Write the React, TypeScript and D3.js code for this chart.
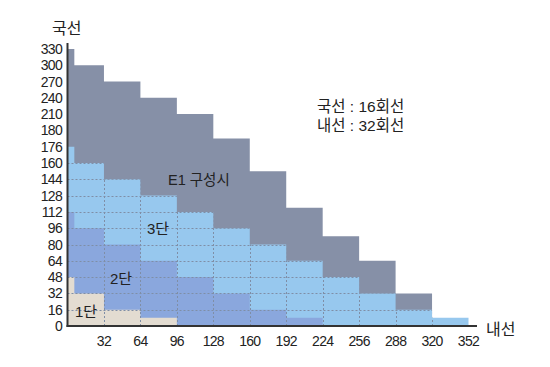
import { useEffect, useRef } from "react";
import * as d3 from "d3";

// column edges on the 내선 axis (first one is a narrow strip)
const colEdges = [0, 6, 32, 64, 96, 128, 160, 192, 224, 256, 288, 320, 352];

// top of each band per column, in 국선 units
const e1Top = [330, 300, 270, 240, 210, 178, 152, 116, 88, 64, 32, 0];
const step3Top = [176, 160, 144, 128, 112, 96, 80, 64, 48, 32, 16, 8];
const step2Top = [112, 96, 80, 64, 48, 32, 16, 8, 0, 0, 0, 0];
const step1Top = [48, 32, 16, 8, 0, 0, 0, 0, 0, 0, 0, 0];

const yTickValues = [0, 16, 32, 48, 64, 80, 96, 112, 128, 144, 160, 176, 180, 210, 240, 270, 300, 330];
const xTickValues = [32, 64, 96, 128, 160, 192, 224, 256, 288, 320, 352];
const gridY = [16, 32, 48, 64, 80, 96, 112, 128, 144, 160];
const gridX = [32, 64, 96, 128, 160, 192, 224, 256, 288, 320];

const W = 550;
const H = 367;
const FONT = "'Liberation Sans', Arial, 'Noto Sans CJK KR', sans-serif";

export default function App() {
  const ref = useRef<SVGSVGElement>(null);

  useEffect(() => {
    const svg = d3.select(ref.current);
    svg.selectAll("*").remove();

    const x0 = 67.5;
    const base = 326;
    const s = 16.3;

    const x = d3.scaleLinear().domain([0, 352]).range([x0, 468.5]);
    // uneven tick values sit evenly spaced, so the scale is piecewise
    const y = d3.scaleLinear()
      .domain([0, 176, 180, 330])
      .range([base, base - 11 * s, base - 12 * s, base - 17 * s]);

    const stepArea = (tops: number[]) => {
      const pts = tops.map((t, i) => [colEdges[i], t] as [number, number]);
      pts.push([colEdges[colEdges.length - 1], tops[tops.length - 1]]);
      return d3.area<[number, number]>()
        .x(d => x(d[0]))
        .y0(y(0))
        .y1(d => y(d[1]))
        .curve(d3.curveStepAfter)(pts) as string;
    };

    svg.append("defs").append("clipPath").attr("id", "lightClip")
      .append("path").attr("d", stepArea(step3Top));

    svg.append("path").attr("d", stepArea(e1Top)).attr("fill", "#8690a7");
    svg.append("path").attr("d", stepArea(step3Top)).attr("fill", "#97c8ee");
    svg.append("path").attr("d", stepArea(step2Top)).attr("fill", "#8aa7dd");
    svg.append("path").attr("d", stepArea(step1Top)).attr("fill", "#e3dcd1");

    const grid = svg.append("g").attr("clip-path", "url(#lightClip)")
      .attr("stroke", "#7f8ea6").attr("stroke-width", 1).attr("stroke-dasharray", "2,2");
    grid.selectAll("line.h").data(gridY).join("line").attr("class", "h")
      .attr("x1", x(0)).attr("x2", x(352))
      .attr("y1", d => Math.round(y(d)) + 0.5).attr("y2", d => Math.round(y(d)) + 0.5);
    grid.selectAll("line.v").data(gridX).join("line").attr("class", "v")
      .attr("y1", y(0)).attr("y2", y(180))
      .attr("x1", d => Math.round(x(d)) + 0.5).attr("x2", d => Math.round(x(d)) + 0.5);

    // axes lines
    svg.append("line").attr("x1", x0).attr("x2", x0).attr("y1", 43).attr("y2", base + 1)
      .attr("stroke", "#333").attr("stroke-width", 2);
    svg.append("line").attr("x1", x0 - 1).attr("x2", 477).attr("y1", base).attr("y2", base)
      .attr("stroke", "#333").attr("stroke-width", 2);

    const txt = svg.append("g").attr("font-family", FONT).attr("fill", "#222");

    txt.selectAll("text.yt").data(yTickValues).join("text").attr("class", "yt")
      .attr("x", 62).attr("y", d => y(d) + 5)
      .attr("text-anchor", "end").attr("font-size", 14).attr("letter-spacing", -0.7)
      .text(d => d);

    txt.selectAll("text.xt").data(xTickValues).join("text").attr("class", "xt")
      .attr("x", d => x(d)).attr("y", 346)
      .attr("text-anchor", "middle").attr("font-size", 14).attr("letter-spacing", -0.7)
      .text(d => d);

    txt.append("text").attr("x", 52).attr("y", 34).attr("font-size", 16).text("국선");
    txt.append("text").attr("x", 486).attr("y", 335).attr("font-size", 16).text("내선");

    txt.append("text").attr("x", 317).attr("y", 112).attr("font-size", 15.5).text("국선 : 16회선");
    txt.append("text").attr("x", 317).attr("y", 131).attr("font-size", 15.5).text("내선 : 32회선");

    txt.append("text").attr("x", 168).attr("y", 185).attr("font-size", 14.5).text("E1  구성시");
    txt.append("text").attr("x", 147).attr("y", 234).attr("font-size", 15).text("3단");
    txt.append("text").attr("x", 110).attr("y", 284).attr("font-size", 15).text("2단");
    txt.append("text").attr("x", 75).attr("y", 317).attr("font-size", 15).text("1단");
  }, []);

  return (
    <svg ref={ref} width={W} height={H}
      style={{ position: "absolute", left: 0, top: 0, background: "#fff" }} />
  );
}
